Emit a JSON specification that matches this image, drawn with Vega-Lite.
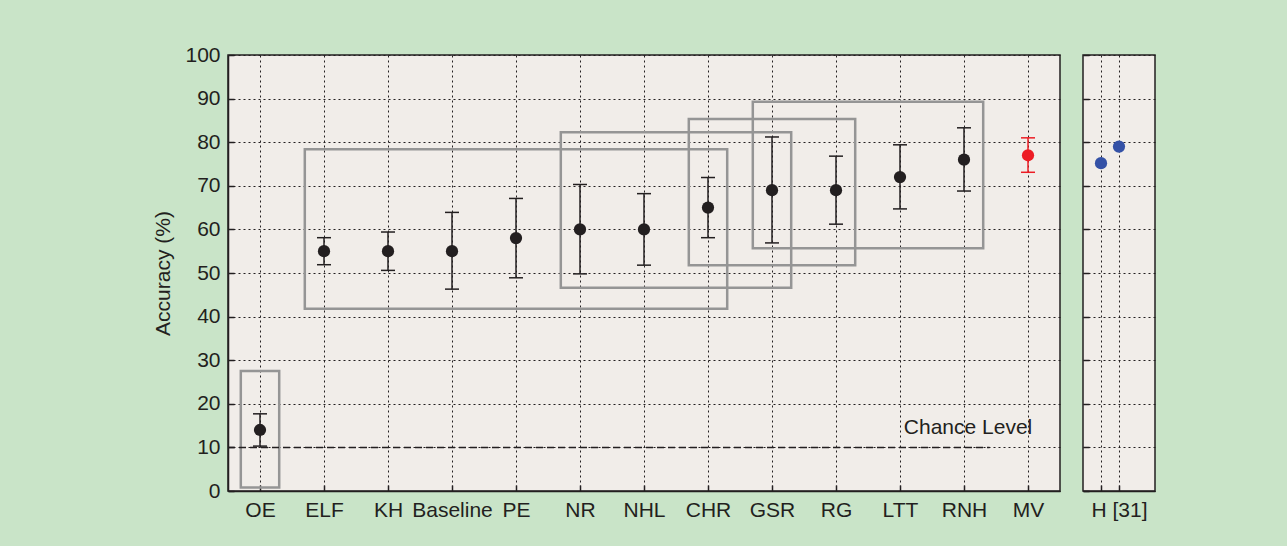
{
  "$schema": "https://vega.github.io/schema/vega-lite/v6.json",
  "background": "#c9e4c8",
  "padding": {"left": 152, "top": 43, "right": 134, "bottom": 25},
  "autosize": {"type": "pad"},
  "config": {
    "font": "Liberation Sans",
    "view": {"fill": "#f1ede9", "stroke": "#231f20", "strokeWidth": 1.5},
    "axis": {
      "gridColor": "#231f20", "gridDash": [2, 3], "gridWidth": 1, "gridOpacity": 1,
      "domainColor": "#231f20", "domainWidth": 1.5,
      "tickColor": "#231f20", "tickWidth": 1.5, "tickSize": -6,
      "labelFont": "Liberation Sans", "labelFontSize": 21, "labelColor": "#231f20", "labelPadding": 14,
      "titleFont": "Liberation Sans", "titleFontSize": 21, "titleFontWeight": "normal", "titleColor": "#231f20"
    },
    "concat": {"spacing": 20}
  },
  "datasets": {
    "methods": [
      {"method": "OE", "idx": 0, "acc": 14, "lo": 10.3, "hi": 17.7, "group": "main"},
      {"method": "ELF", "idx": 1, "acc": 55, "lo": 51.9, "hi": 58.1, "group": "main"},
      {"method": "KH", "idx": 2, "acc": 55, "lo": 50.6, "hi": 59.4, "group": "main"},
      {"method": "Baseline", "idx": 3, "acc": 55, "lo": 46.3, "hi": 63.9, "group": "main"},
      {"method": "PE", "idx": 4, "acc": 58, "lo": 48.9, "hi": 67.1, "group": "main"},
      {"method": "NR", "idx": 5, "acc": 60, "lo": 49.8, "hi": 70.3, "group": "main"},
      {"method": "NHL", "idx": 6, "acc": 60, "lo": 51.8, "hi": 68.2, "group": "main"},
      {"method": "CHR", "idx": 7, "acc": 65, "lo": 58.1, "hi": 71.9, "group": "main"},
      {"method": "GSR", "idx": 8, "acc": 69, "lo": 56.9, "hi": 81.2, "group": "main"},
      {"method": "RG", "idx": 9, "acc": 69, "lo": 61.2, "hi": 76.8, "group": "main"},
      {"method": "LTT", "idx": 10, "acc": 72, "lo": 64.7, "hi": 79.4, "group": "main"},
      {"method": "RNH", "idx": 11, "acc": 76, "lo": 68.8, "hi": 83.3, "group": "main"},
      {"method": "MV", "idx": 12, "acc": 77, "lo": 73.1, "hi": 81.0, "group": "mv"}
    ],
    "boxes": [
      {"x0": -0.3, "x1": 0.3, "y0": 0.8, "y1": 27.5},
      {"x0": 0.7, "x1": 7.3, "y0": 41.8, "y1": 78.4},
      {"x0": 4.7, "x1": 8.3, "y0": 46.6, "y1": 82.3},
      {"x0": 6.7, "x1": 9.3, "y0": 51.8, "y1": 85.3},
      {"x0": 7.7, "x1": 11.3, "y0": 55.7, "y1": 89.3}
    ],
    "chance": [{"x0": -0.5, "x1": 11.4, "y": 10, "label": "Chance Level", "lx": 10.06, "ly": 14.5}],
    "human": [
      {"label": "H", "pos": 1, "acc": 75.2},
      {"label": "[31]", "pos": 2, "acc": 79}
    ]
  },
  "hconcat": [
    {
      "width": 832,
      "height": 436,
      "layer": [
        {
          "data": {"name": "boxes"},
          "mark": {"type": "rect", "fillOpacity": 0, "stroke": "#959595", "strokeWidth": 2.5},
          "encoding": {
            "x": {
              "field": "x0", "type": "quantitative",
              "scale": {"domain": [-0.5, 12.5], "nice": false, "zero": false},
              "axis": {
                "title": null,
                "values": [0, 1, 2, 3, 4, 5, 6, 7, 8, 9, 10, 11, 12],
                "labelExpr": "['OE','ELF','KH','Baseline','PE','NR','NHL','CHR','GSR','RG','LTT','RNH','MV'][datum.value]"
              }
            },
            "x2": {"field": "x1"},
            "y": {
              "field": "y0", "type": "quantitative",
              "scale": {"domain": [0, 100], "nice": false, "zero": true},
              "axis": {
                "title": "Accuracy (%)",
                "titlePadding": 11,
                "values": [0, 10, 20, 30, 40, 50, 60, 70, 80, 90, 100]
              }
            },
            "y2": {"field": "y1"}
          }
        },
        {
          "data": {"name": "chance"},
          "mark": {"type": "rule", "color": "#231f20", "strokeWidth": 1.5, "strokeDash": [7, 4]},
          "encoding": {
            "x": {"field": "x0", "type": "quantitative"},
            "x2": {"field": "x1"},
            "y": {"field": "y", "type": "quantitative"}
          }
        },
        {
          "data": {"name": "chance"},
          "mark": {"type": "text", "align": "left", "baseline": "middle", "fontSize": 21, "color": "#231f20", "font": "Liberation Sans"},
          "encoding": {
            "x": {"field": "lx", "type": "quantitative"},
            "y": {"field": "ly", "type": "quantitative"},
            "text": {"field": "label"}
          }
        },
        {
          "data": {"name": "methods"},
          "mark": {"type": "rule", "strokeWidth": 1.5},
          "encoding": {
            "x": {"field": "idx", "type": "quantitative"},
            "y": {"field": "lo", "type": "quantitative"},
            "y2": {"field": "hi"},
            "color": {"field": "group", "type": "nominal", "scale": {"domain": ["main", "mv"], "range": ["#231f20", "#ed1c24"]}, "legend": null}
          }
        },
        {
          "data": {"name": "methods"},
          "mark": {"type": "tick", "orient": "horizontal", "size": 14, "thickness": 1.5, "opacity": 1},
          "encoding": {
            "x": {"field": "idx", "type": "quantitative"},
            "y": {"field": "lo", "type": "quantitative"},
            "color": {"field": "group", "type": "nominal", "legend": null}
          }
        },
        {
          "data": {"name": "methods"},
          "mark": {"type": "tick", "orient": "horizontal", "size": 14, "thickness": 1.5, "opacity": 1},
          "encoding": {
            "x": {"field": "idx", "type": "quantitative"},
            "y": {"field": "hi", "type": "quantitative"},
            "color": {"field": "group", "type": "nominal", "legend": null}
          }
        },
        {
          "data": {"name": "methods"},
          "mark": {"type": "circle", "size": 150, "opacity": 1},
          "encoding": {
            "x": {"field": "idx", "type": "quantitative"},
            "y": {"field": "acc", "type": "quantitative"},
            "color": {"field": "group", "type": "nominal", "legend": null}
          }
        }
      ]
    },
    {
      "width": 72,
      "height": 436,
      "data": {"name": "human"},
      "mark": {"type": "circle", "size": 150, "opacity": 1, "color": "#3451a6"},
      "encoding": {
        "x": {
          "field": "pos", "type": "quantitative",
          "scale": {"domain": [0, 4], "nice": false, "zero": false},
          "axis": {"title": null, "values": [1, 2], "labelExpr": "datum.value == 2 ? 'H [31]' : ''"}
        },
        "y": {
          "field": "acc", "type": "quantitative",
          "scale": {"domain": [0, 100], "nice": false},
          "axis": {"title": null, "labels": false, "domain": false, "values": [0, 10, 20, 30, 40, 50, 60, 70, 80, 90, 100]}
        }
      }
    }
  ]
}
